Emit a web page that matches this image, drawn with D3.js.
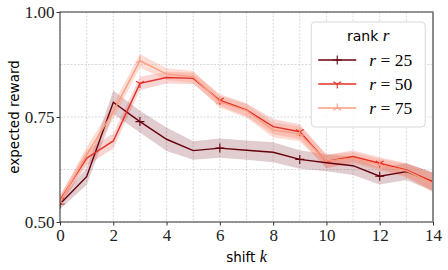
<!DOCTYPE html>
<html>
<head>
<meta charset="utf-8">
<script src="https://cdn.jsdelivr.net/npm/d3@7"></script>
<style>
  body { margin: 0; background: #fff; }
  svg { display: block; }
</style>
</head>
<body>
<div id="chart"></div>
<script>
const margin = {top: 12, right: 15, bottom: 48, left: 60};
const width = 448 - margin.left - margin.right, height = 270 - margin.top - margin.bottom;

// data
const shifts = [0, 1, 2, 3, 4, 5, 6, 7, 8, 9, 10, 11, 12, 13, 14];
const ranks = ["25", "50", "75"];
const reward25 = [0.543, 0.608, 0.785, 0.739, 0.697, 0.670, 0.676, 0.671, 0.666, 0.649, 0.641, 0.634, 0.609, 0.620, 0.596];
const reward50 = [0.552, 0.652, 0.693, 0.830, 0.844, 0.842, 0.790, 0.767, 0.727, 0.715, 0.644, 0.656, 0.640, 0.624, 0.596];
const reward75 = [0.548, 0.660, 0.763, 0.884, 0.852, 0.846, 0.786, 0.765, 0.719, 0.710, 0.645, 0.652, 0.636, 0.622, 0.592];
const spread25 = [0.012, 0.020, 0.028, 0.026, 0.028, 0.022, 0.023, 0.023, 0.024, 0.022, 0.020, 0.022, 0.020, 0.020, 0.022];
const spread50 = [0.012, 0.018, 0.018, 0.016, 0.014, 0.014, 0.014, 0.016, 0.018, 0.018, 0.016, 0.014, 0.014, 0.016, 0.022];
const spread75 = [0.012, 0.018, 0.018, 0.016, 0.014, 0.014, 0.014, 0.016, 0.018, 0.018, 0.016, 0.014, 0.014, 0.016, 0.022];
const xTicks = [0, 2, 4, 6, 8, 10, 12, 14];
const yTicks = [0.5, 0.75, 1.0];
const yGrid = [0.5, 0.625, 0.75, 0.875, 1.0];

const series = [
    {rank: ranks[0], values: reward25, spread: spread25, color: "#67000d", band: "#67000d", bandOpacity: 0.2, marker: "plus"},
    {rank: ranks[1], values: reward50, spread: spread50, color: "#e32f27", band: "#e32f27", bandOpacity: 0.2, marker: "tridown"},
    {rank: ranks[2], values: reward75, spread: spread75, color: "#fc9d80", band: "#fc9272", bandOpacity: 0.3, marker: "triup"}
];

const svg = d3.select("#chart").append("svg")
    .attr("width", width + margin.left + margin.right)
    .attr("height", height + margin.top + margin.bottom)
    .append("g")
    .attr("transform", "translate(" + margin.left + "," + margin.top + ")");

let x = d3.scaleLinear().domain([0, 14]).range([0, width]);
let y = d3.scaleLinear().domain([0.5, 1.0]).range([height, 0]);

// grid
svg.append("g").selectAll("line")
    .data(shifts)
    .enter().append("line")
    .attr("x1", d => x(d)).attr("x2", d => x(d))
    .attr("y1", 0).attr("y2", height)
    .attr("stroke", "#cfcfcf").attr("stroke-width", 0.8)
    .style("stroke-dasharray", "2,1.5");
svg.append("g").selectAll("line")
    .data(yGrid)
    .enter().append("line")
    .attr("x1", 0).attr("x2", width)
    .attr("y1", d => y(d)).attr("y2", d => y(d))
    .attr("stroke", "#cfcfcf").attr("stroke-width", 0.8)
    .style("stroke-dasharray", "2,1.5");

svg.append("clipPath").attr("id", "clip")
    .append("rect").attr("width", width).attr("height", height);

const plot = svg.append("g").attr("clip-path", "url(#clip)");

const area = d3.area()
    .x((d, i) => x(shifts[i]))
    .y0((d, i) => y(d.v - d.s))
    .y1((d, i) => y(d.v + d.s));
const line = d3.line()
    .x((d, i) => x(shifts[i]))
    .y(d => y(d));

series.forEach(function (s) {
    plot.append("path")
        .datum(s.values.map((v, i) => ({v: v, s: s.spread[i]})))
        .attr("d", area)
        .attr("fill", s.band)
        .attr("fill-opacity", s.bandOpacity);
});

function markerPath(type, r) {
    if (type === "plus") return "M0," + (-r) + "V" + r + "M" + (-r) + ",0H" + r;
    const a = r * 0.866, b = r * 0.5;
    if (type === "tridown") return "M0,0V" + r + "M0,0L" + (-a) + "," + (-b) + "M0,0L" + a + "," + (-b);
    return "M0,0V" + (-r) + "M0,0L" + (-a) + "," + b + "M0,0L" + a + "," + b;
}

series.forEach(function (s) {
    plot.append("path")
        .datum(s.values)
        .attr("d", line)
        .attr("fill", "none")
        .attr("stroke", s.color)
        .attr("stroke-width", 1.4);
    plot.append("g").selectAll("path")
        .data(s.values.map((v, i) => ({k: shifts[i], v: v})).filter(d => d.k % 3 === 0))
        .enter().append("path")
        .attr("transform", d => "translate(" + x(d.k) + "," + y(d.v) + ")")
        .attr("d", markerPath(s.marker, 4.5))
        .attr("fill", "none")
        .attr("stroke", s.color)
        .attr("stroke-width", 1.1);
});

// frame
svg.append("rect")
    .attr("width", width).attr("height", height)
    .attr("fill", "none").attr("stroke", "#333").attr("stroke-width", 1);
svg.append("line")
    .attr("x1", width).attr("x2", width).attr("y1", 0).attr("y2", height)
    .attr("stroke", "#888").attr("stroke-width", 1.6);

// axes
const xAxis = svg.append("g")
    .attr("transform", "translate(0," + height + ")")
    .call(d3.axisBottom(x).tickValues(xTicks).tickFormat(d3.format("d")).tickSize(3.5).tickPadding(3));
const yAxis = svg.append("g")
    .call(d3.axisLeft(y).tickValues(yTicks).tickFormat(d3.format(".2f")).tickSize(3.5).tickPadding(2));
[xAxis, yAxis].forEach(function (a) {
    a.select(".domain").remove();
    a.selectAll("line").attr("stroke", "#333");
    a.selectAll("text")
        .style("font-family", "'Liberation Serif', 'DejaVu Serif', serif")
        .style("font-size", "17px")
        .attr("fill", "#222");
});

svg.append("text")
    .attr("x", width / 2).attr("y", height + 40)
    .attr("text-anchor", "middle")
    .style("font-family", "'DejaVu Sans', sans-serif").style("font-size", "13.5px")
    .text("shift ")
    .append("tspan")
    .style("font-family", "'Liberation Serif', serif").style("font-style", "italic").style("font-size", "16px")
    .text("k");

svg.append("text")
    .attr("transform", "translate(" + (-41) + "," + (height / 2) + ") rotate(-90)")
    .attr("text-anchor", "middle")
    .style("font-family", "'DejaVu Sans', sans-serif").style("font-size", "13.5px")
    .text("expected reward");

// legend
const legend = svg.append("g").attr("transform", "translate(" + (x(9.43)) + ",10)");
legend.append("rect")
    .attr("width", 114).attr("height", 105).attr("rx", 4)
    .attr("fill", "#fff").attr("fill-opacity", 0.85)
    .attr("stroke", "#d8d8d8").attr("stroke-width", 1);
const title = legend.append("text")
    .attr("x", 57).attr("y", 19)
    .attr("text-anchor", "middle")
    .style("font-family", "'DejaVu Sans', sans-serif").style("font-size", "14px")
    .text("rank ");
title.append("tspan")
    .style("font-family", "'Liberation Serif', serif").style("font-style", "italic").style("font-size", "17px")
    .text("r");

series.forEach(function (s, i) {
    const g = legend.append("g").attr("transform", "translate(0," + (38 + i * 24) + ")");
    g.append("line").attr("x1", 7).attr("x2", 45)
        .attr("stroke", s.color).attr("stroke-width", 1.4);
    g.append("path").attr("transform", "translate(26,0)")
        .attr("d", markerPath(s.marker, 4.5))
        .attr("fill", "none").attr("stroke", s.color).attr("stroke-width", 1.1);
    const t = g.append("text").attr("x", 58).attr("y", 6)
        .style("font-family", "'Liberation Serif', serif").style("font-size", "17.5px");
    t.append("tspan").style("font-style", "italic").text("r");
    t.append("tspan").text(" = " + s.rank);
});
</script>
</body>
</html>
